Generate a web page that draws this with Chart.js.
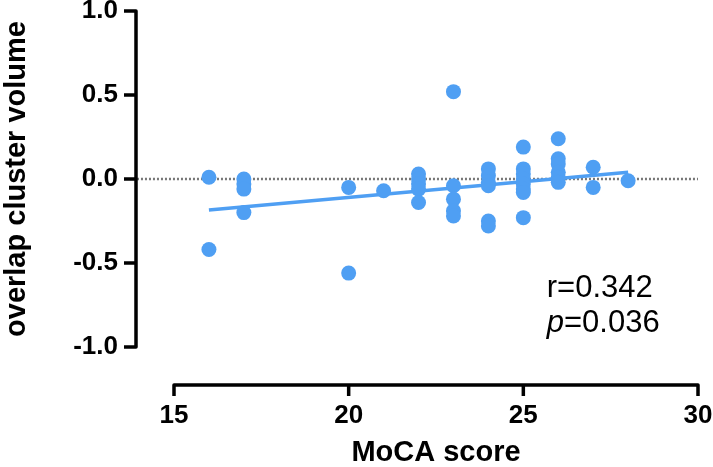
<!DOCTYPE html>
<html lang="en">
<head>
    <meta charset="UTF-8">
    <title>Overlap cluster volume vs MoCA score</title>
    <style>
        body {
          margin: 0;
          background: #fff;
        }
        #chart {
            display: block;
        }
    </style>
</head>
<body>

    <canvas id="chart" width="713" height="467"></canvas>

    <script src="https://cdn.jsdelivr.net/npm/chart.js@4.4.0/dist/chart.umd.min.js"></script>

    <script>
        // one entry per subject
        var mocaScore = [
            16, 16,
            17, 17, 17, 17,
            20, 20,
            21,
            22, 22, 22, 22, 22,
            23, 23, 23, 23, 23,
            24, 24, 24, 24, 24, 24,
            25, 25, 25, 25, 25, 25, 25, 25,
            26, 26, 26, 26, 26, 26,
            27, 27,
            28
        ];
        var overlapVolume = [
            0.01, -0.42,
            0.00, -0.03, -0.06, -0.20,
            -0.05, -0.56,
            -0.07,
            0.03, 0.00, -0.03, -0.06, -0.14,
            0.52, -0.04, -0.12, -0.19, -0.22,
            0.06, 0.02, -0.02, -0.04, -0.25, -0.28,
            0.19, 0.06, 0.03, 0.00, -0.03, -0.06, -0.08, -0.23,
            0.24, 0.12, 0.09, 0.04, 0.01, -0.02,
            0.07, -0.05,
            -0.01
        ];

        // regression line ends
        var fitX = [16, 28];
        var fitY = [-0.185, 0.04];

        // dotted reference line at zero (starts at the y axis)
        var zeroX = [13.94, 30];
        var zeroY = [0, 0];

        var xTicks = [15, 20, 25, 30];
        var yTicks = [-1.0, -0.5, 0.0, 0.5, 1.0];

        var statLines = ['r=0.342', '=0.036'];

        var blue = '#4f9ff3';
        var fontFamily = '"Liberation Sans", Arial, Helvetica, sans-serif';

        function toPoints(xs, ys) {
            return xs.map(function(x, i) { return { x: x, y: ys[i] }; });
        }

        // Prism style: axes pulled away from the plot area
        var prismAxes = {
            id: 'prismAxes',
            afterDatasetsDraw: function(chart) {
                var ctx = chart.ctx;
                var xs = chart.scales.x, ys = chart.scales.y;
                var area = chart.chartArea;
                var axX = area.left - 38;
                var axY = area.bottom + 38;

                ctx.save();
                ctx.strokeStyle = '#000';
                ctx.lineWidth = 3.5;
                ctx.lineJoin = 'round';
                ctx.lineCap = 'butt';

                var yTop = ys.getPixelForValue(yTicks[yTicks.length - 1]);
                var yBot = ys.getPixelForValue(yTicks[0]);
                ctx.beginPath();
                ctx.moveTo(axX - 12, yTop);
                ctx.lineTo(axX, yTop);
                ctx.lineTo(axX, yBot);
                ctx.lineTo(axX - 12, yBot);
                yTicks.slice(1, -1).forEach(function(v) {
                    var p = ys.getPixelForValue(v);
                    ctx.moveTo(axX - 12, p);
                    ctx.lineTo(axX, p);
                });
                ctx.stroke();

                var xL = xs.getPixelForValue(xTicks[0]);
                var xR = xs.getPixelForValue(xTicks[xTicks.length - 1]);
                ctx.beginPath();
                ctx.moveTo(xL, axY + 11);
                ctx.lineTo(xL, axY);
                ctx.lineTo(xR, axY);
                ctx.lineTo(xR, axY + 11);
                xTicks.slice(1, -1).forEach(function(v) {
                    var p = xs.getPixelForValue(v);
                    ctx.moveTo(p, axY);
                    ctx.lineTo(p, axY + 11);
                });
                ctx.stroke();

                // r and p values
                var tx = xs.getPixelForValue(25.67);
                ctx.fillStyle = '#000';
                ctx.textBaseline = 'alphabetic';
                ctx.textAlign = 'left';
                ctx.font = '31px ' + fontFamily;
                ctx.fillText(statLines[0], tx, ys.getPixelForValue(-0.702));
                var y2 = ys.getPixelForValue(-0.911);
                ctx.font = 'italic 31px ' + fontFamily;
                ctx.fillText('p', tx, y2);
                var pw = ctx.measureText('p').width;
                ctx.font = '31px ' + fontFamily;
                ctx.fillText(statLines[1], tx + pw, y2);
                ctx.restore();
            }
        };

        new Chart(document.getElementById('chart'), {
            type: 'scatter',
            data: {
                datasets: [{
                    type: 'line',
                    data: toPoints(zeroX, zeroY),
                    borderColor: '#777',
                    borderWidth: 2.5,
                    borderDash: [2, 2],
                    pointRadius: 0,
                    clip: false,
                    order: 3
                }, {
                    type: 'line',
                    data: toPoints(fitX, fitY),
                    borderColor: blue,
                    borderWidth: 3.5,
                    pointRadius: 0,
                    order: 2
                }, {
                    data: toPoints(mocaScore, overlapVolume),
                    backgroundColor: blue,
                    borderColor: blue,
                    borderWidth: 0,
                    pointRadius: 7.5,
                    order: 1
                }]
            },
            options: {
                responsive: false,
                animation: false,
                devicePixelRatio: 1,
                layout: { padding: { top: 11, right: 15, left: 0, bottom: 0 } },
                plugins: {
                    legend: { display: false },
                    tooltip: { enabled: false }
                },
                scales: {
                    x: {
                        type: 'linear',
                        min: 15,
                        max: 30,
                        afterBuildTicks: function(s) { s.ticks = xTicks.map(function(v) { return { value: v }; }); },
                        afterFit: function(s) {
                            s.height = 120;
                            s.paddingLeft = 0;
                            s.paddingRight = 0;
                        },
                        grid: { display: false, drawTicks: false },
                        border: { display: false },
                        ticks: {
                            padding: 53,
                            color: '#000',
                            maxRotation: 0,
                            autoSkip: false,
                            font: { family: fontFamily, size: 26, weight: 'bold' }
                        },
                        title: {
                            display: true,
                            text: 'MoCA score',
                            color: '#000',
                            padding: 0,
                            font: { family: fontFamily, size: 29, weight: 'bold', lineHeight: 1 }
                        }
                    },
                    y: {
                        min: -1,
                        max: 1,
                        afterBuildTicks: function(s) { s.ticks = yTicks.map(function(v) { return { value: v }; }); },
                        afterFit: function(s) {
                            s.width = 174;
                            s.paddingTop = 0;
                            s.paddingBottom = 0;
                        },
                        grid: { display: false, drawTicks: false },
                        border: { display: false },
                        ticks: {
                            padding: 56,
                            color: '#000',
                            autoSkip: false,
                            callback: function(v) { return Number(v).toFixed(1); },
                            font: { family: fontFamily, size: 26, weight: 'bold' }
                        },
                        title: {
                            display: true,
                            text: 'overlap cluster volume',
                            color: '#000',
                            padding: 0,
                            font: { family: fontFamily, size: 29, weight: 'bold' }
                        }
                    }
                }
            },
            plugins: [prismAxes]
        });
    </script>

</body>
</html>
